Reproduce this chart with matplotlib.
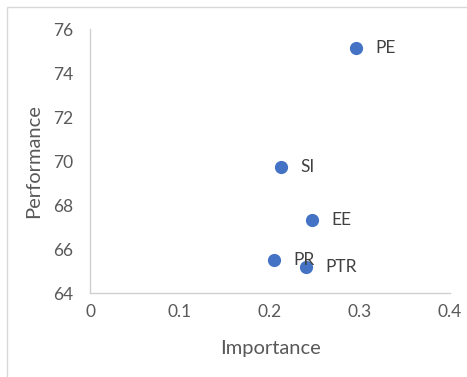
import matplotlib
matplotlib.use("Agg")
import matplotlib.pyplot as plt
from matplotlib.patches import Rectangle

labels = ["PE", "SI", "EE", "PR", "PTR"]
importance = [0.295, 0.212, 0.247, 0.204, 0.240]
performance = [75.14, 69.73, 67.35, 65.53, 65.2]

x_ticks = [0, 0.1, 0.2, 0.3, 0.4]
x_ticklabels = ["0", "0.1", "0.2", "0.3", "0.4"]
y_ticks = [64, 66, 68, 70, 72, 74, 76]

plt.rcParams['font.family'] = ['Lato', 'DejaVu Sans']

fig = plt.figure(figsize=(4.67, 3.77), dpi=100)
# chart-area frame
fig.patches.append(Rectangle((7 / 467, -0.05), 1.1, 1 - 7 / 377 + 0.05,
                             transform=fig.transFigure, fill=False,
                             edgecolor="#d9d9d9", linewidth=1))

ax = fig.add_axes([90 / 467, 1 - 293.3 / 377, 360 / 467, 264 / 377])
ax.scatter(importance, performance, s=72, color="#4472c4", zorder=3)
for lab, xv, yv in zip(labels, importance, performance):
    ax.annotate(lab, (xv, yv), xytext=(14, 0), textcoords="offset points",
                va="center", ha="left", fontsize=12.5, color="#404040")

ax.set_xlim(0, 0.4)
ax.set_ylim(64, 76)
ax.set_xticks(x_ticks)
ax.set_xticklabels(x_ticklabels)
ax.set_yticks(y_ticks)
ax.tick_params(length=0, labelsize=12.5, colors="#595959")
ax.tick_params(axis="y", pad=12)
ax.tick_params(axis="x", pad=8)

for s in ["top", "right"]:
    ax.spines[s].set_visible(False)
for s in ["left", "bottom"]:
    ax.spines[s].set_color("#d0d0d0")
    ax.spines[s].set_linewidth(1)

ax.set_xlabel("Importance", fontsize=14.5, color="#595959", labelpad=14)
ax.set_ylabel("Performance", fontsize=14.5, color="#595959", labelpad=8)

plt.savefig("out.png", dpi=100)
